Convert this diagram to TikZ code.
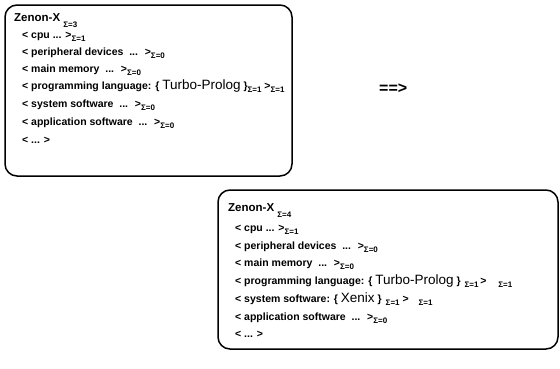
\documentclass[tikz,border=0pt]{standalone}
\usepackage{fontspec}
\setmainfont{Liberation Sans}
\newcommand\sbs[1]{\raisebox{-3.5pt}{\fontsize{8}{9}\selectfont\bfseries Σ=#1}}
\newcommand\sbz[1]{\raisebox{-6pt}{\fontsize{8}{9}\selectfont\bfseries Σ=#1}}
\newcommand\tpf[1]{{\mdseries\fontsize{13.5}{15}\selectfont #1}}
\tikzset{
  txt/.style={anchor=base west, inner sep=0pt, font=\bfseries\fontsize{10.5}{12}\selectfont},
  head/.style={anchor=base west, inner sep=0pt, font=\bfseries\fontsize{11.5}{13}\selectfont},
  frame/.style={line width=1.5pt, rounded corners=12pt}
}
\begin{document}
\begin{tikzpicture}[x=1pt,y=-1pt]
\useasboundingbox (0,0) rectangle (560,368);
% box 1
\draw[frame] (5,5) rectangle (292,176);
\node[head] (z1) at (14,21) {Zenon-X \sbz{3}};
\node[txt] (a1) at (22,38) {< cpu ... >\sbs{1}};
\node[txt] (b1) at (22,55) {< peripheral devices \ ... \ >\sbs{0}};
\node[txt] (c1) at (22,72) {< main memory \ ... \ >\sbs{0}};
\node[txt] (d1) at (22,89) {< programming language: \{ \tpf{Turbo-Prolog} \}\sbs{1} >\sbs{1}};
\node[txt] (e1) at (22,107) {< system software \ ... \ >\sbs{0}};
\node[txt] (f1) at (22,125) {< application software \ ... \ >\sbs{0}};
\node[txt] (g1) at (22,143) {< ... >};
% arrow
\node[txt, font=\bfseries\fontsize{16}{18}\selectfont] (arr) at (379,93) {==>};
% box 2
\draw[frame] (218,190) rectangle (558,349);
\node[head] (z2) at (228,211) {Zenon-X \sbz{4}};
\node[txt] (a2) at (235,231) {< cpu ... >\sbs{1}};
\node[txt] (b2) at (235,249) {< peripheral devices \ ... \ >\sbs{0}};
\node[txt] (c2) at (235,266) {< main memory \ ... \ >\sbs{0}};
\node[txt] (d2) at (235,284) {< programming language: \{ \tpf{Turbo-Prolog} \}\hspace{4pt}\sbs{1}\,>\hspace{12pt}\sbs{1}};
\node[txt] (e2) at (235,302) {< system software: \{ \tpf{Xenix} \}\hspace{4pt}\sbs{1}\ >\hspace{10pt}\sbs{1}};
\node[txt] (f2) at (235,320) {< application software \ ... \ >\sbs{0}};
\node[txt] (g2) at (235,337) {< ... >};
\end{tikzpicture}
\end{document}
